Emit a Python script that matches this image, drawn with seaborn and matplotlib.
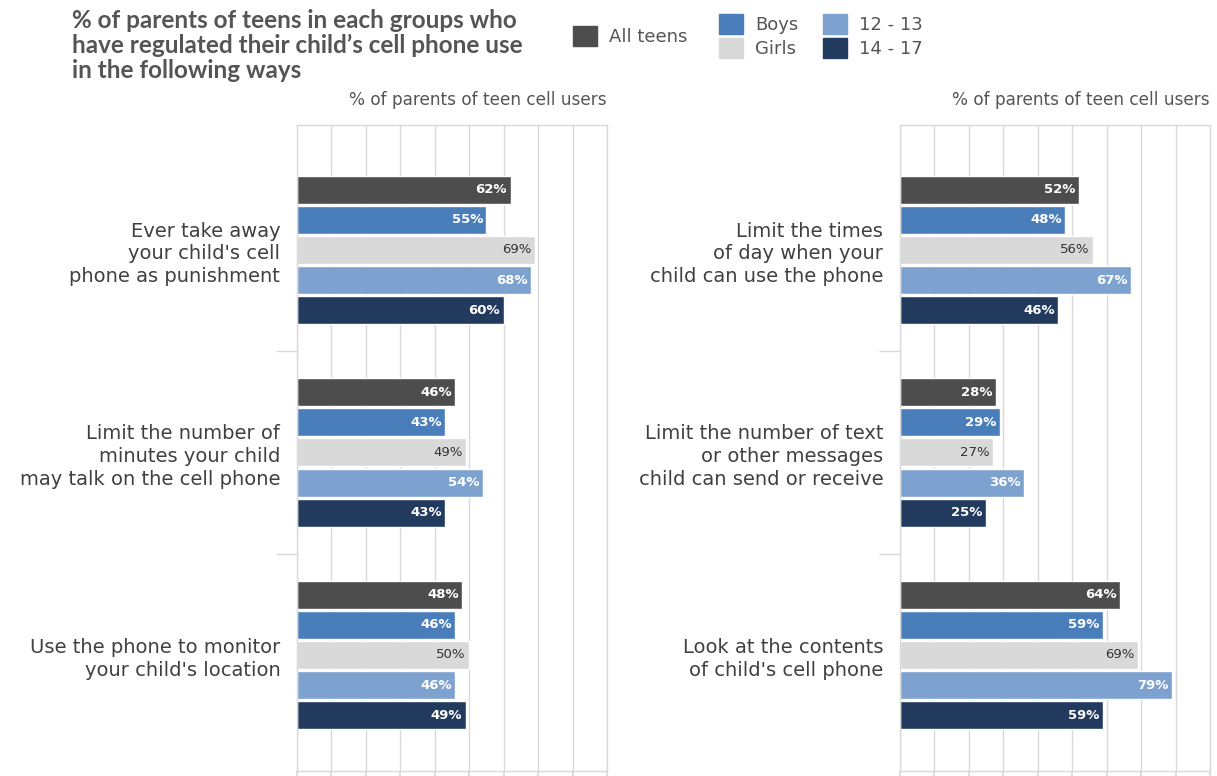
import pandas as pd
import numpy as np
import matplotlib.pyplot as plt
import seaborn as sns
from matplotlib.patches import Patch

groups = ["All teens", "Boys", "Girls", "12 - 13", "14 - 17"]
colors = ["#4d4d4d", "#4a7ebb", "#d9d9d9", "#7ea2cf", "#223a5e"]

left_items = [
    "Ever take away\nyour child's cell\nphone as punishment",
    "Limit the number of\nminutes your child\nmay talk on the cell phone",
    "Use the phone to monitor\nyour child's location",
]
left_values = [
    [62, 55, 69, 68, 60],
    [46, 43, 49, 54, 43],
    [48, 46, 50, 46, 49],
]

right_items = [
    "Limit the times\nof day when your\nchild can use the phone",
    "Limit the number of text\nor other messages\nchild can send or receive",
    "Look at the contents\nof child's cell phone",
]
right_values = [
    [52, 48, 56, 67, 46],
    [28, 29, 27, 36, 25],
    [64, 59, 69, 79, 59],
]

title = ("% of parents of teens in each groups who\n"
         "have regulated their child\u2019s cell phone use\n"
         "in the following ways")
subtitle = "% of parents of teen cell users"

sns.set_theme(style="white")
plt.rcParams["font.family"] = ["DejaVu Sans"]

palette = dict(zip(groups, colors))
text_col = "#404040"
grid_col = "#d9d9d9"


def make_df(items, values):
    rows = []
    for item, vals in zip(items, values):
        for g, v in zip(groups, vals):
            rows.append({"item": item, "group": g, "value": v})
    return pd.DataFrame(rows)


fig = plt.figure(figsize=(12.17, 7.76), dpi=100)
W, H = 1217, 776
ax_l = fig.add_axes([297 / W, 1 - 771 / H, 310 / W, 646 / H])
ax_r = fig.add_axes([900 / W, 1 - 771 / H, 310 / W, 646 / H])

for ax, items, values in [(ax_l, left_items, left_values), (ax_r, right_items, right_values)]:
    df = make_df(items, values)
    sns.barplot(data=df, y="item", x="value", hue="group", palette=palette,
                orient="h", width=0.745, gap=0.07, legend=False, ax=ax,
                saturation=1)
    for cont, g in zip(ax.containers, groups):
        for p in cont:
            w = p.get_width()
            cy = p.get_y() + p.get_height() / 2
            if g == "Girls":
                ax.text(w - 1, cy, f"{w:.0f}%", ha="right", va="center",
                        fontsize=9.5, color="#333333")
            else:
                ax.text(w - 1, cy, f"{w:.0f}%", ha="right", va="center",
                        fontsize=9.5, color="white", fontweight="bold")
    ax.set_xlim(0, 90)
    ax.set_ylim(2.573, -0.617)
    ax.set_xticks(np.arange(0, 91, 10))
    ax.set_xticklabels([])
    ax.grid(axis="x", color=grid_col, linewidth=1)
    ax.set_axisbelow(True)
    ax.tick_params(axis="x", length=6, color=grid_col, direction="out", bottom=True)
    ax.set_yticks([0, 1, 2])
    ax.set_yticklabels(items, fontsize=14, color=text_col, linespacing=1.25)
    ax.tick_params(axis="y", length=0, pad=12)
    ax.set_yticks([0.5, 1.5], minor=True)
    ax.tick_params(axis="y", which="minor", length=15, color=grid_col, left=True)
    ax.set_xlabel("")
    ax.set_ylabel("")
    for s in ax.spines.values():
        s.set_color(grid_col)
        s.set_linewidth(1)
    ax.text(1.0, 1.025, subtitle, transform=ax.transAxes, ha="right", va="bottom",
            fontsize=12.2, color="#555555")

fig.text(72 / W, 1 - 9 / H, title, ha="left", va="top", fontsize=17.5,
         fontweight="bold", color="#555555", linespacing=1.1,
         family=["Lato", "DejaVu Sans"])

leg_kw = dict(frameon=False, fontsize=13, labelcolor="#555555",
              handlelength=1.3, handleheight=1.3, handletextpad=0.7,
              labelspacing=0.25, borderaxespad=0)
fig.legend(handles=[Patch(color=colors[0], label=groups[0])],
           loc="center left", bbox_to_anchor=(566 / W, 1 - 36 / H), **leg_kw)
fig.legend(handles=[Patch(color=colors[1], label=groups[1]),
                    Patch(color=colors[2], label=groups[2])],
           loc="center left", bbox_to_anchor=(712 / W, 1 - 36 / H), **leg_kw)
fig.legend(handles=[Patch(color=colors[3], label=groups[3]),
                    Patch(color=colors[4], label=groups[4])],
           loc="center left", bbox_to_anchor=(816 / W, 1 - 36 / H), **leg_kw)

fig.savefig("out.png", dpi=100)
